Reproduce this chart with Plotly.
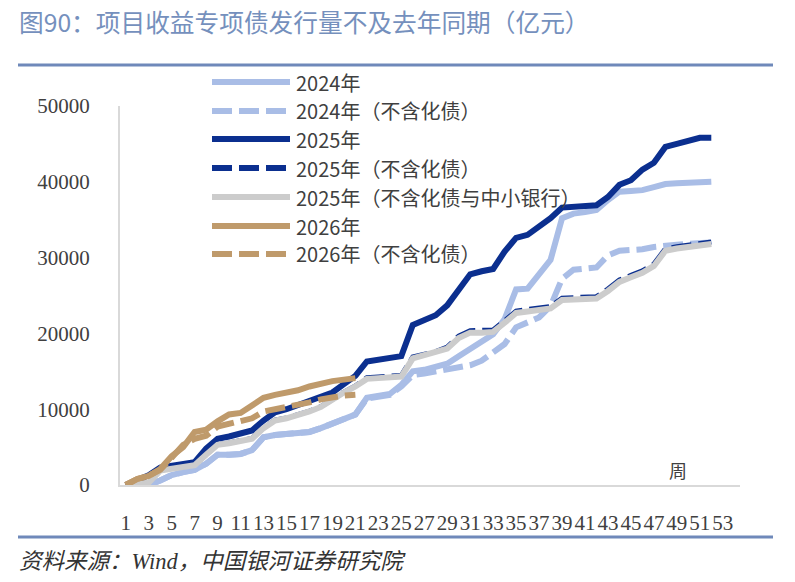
import plotly.graph_objects as go

# ---------------- data ----------------
weeks = list(range(1, 53))
week_ticks = list(range(1, 54, 2))

y2024 = [0, 0, 0, 600, 1300, 1700, 2000, 2800, 4000, 4000, 4100, 4600, 6300, 6600, 6700, 6800,
         7000, 7500, 8100, 8700, 9300, 11500, 11700, 12000, 13200, 15000, 15200, 15600, 16000,
         17000, 17900, 18800, 19900, 21900, 25800, 25900, 27800, 29700, 35200, 35800, 36000,
         36300, 37600, 38700, 38800, 38900, 39300, 39700, 39800, 39900, 40000, 40000]
y2024_ex = [0, 0, 0, 600, 1300, 1700, 2000, 2800, 4000, 4000, 4100, 4600, 6300, 6600, 6700, 6800,
            7000, 7500, 8100, 8700, 9300, 11400, 11600, 11900, 13000, 14500, 14700, 15000, 15300,
            15500, 15800, 16400, 17500, 18600, 20800, 21500, 22100, 23600, 27200, 28400, 28600,
            28700, 30300, 30900, 31000, 31100, 31400, 31600, 31700, 31800, 31900, 32000]
y2025 = [0, 700, 1300, 2300, 2500, 2700, 3000, 4800, 6100, 6400, 6800, 7200, 8500, 9600, 10000,
         10600, 11000, 11600, 12200, 13300, 14400, 16300, 16500, 16600, 17000, 21100, 21700, 22400,
         23700, 25600, 27800, 28200, 28500, 30800, 32600, 33000, 34100, 35200, 36600, 36700, 36700,
         36900, 38000, 39600, 40200, 41600, 42500, 44600, 45000, 45500, 45800, 45800]
y2025_ex = [0, 150, 350, 1950, 2150, 2350, 2650, 4050, 5350, 5550, 5850, 6150, 7550, 8550, 8850,
            9250, 9750, 10350, 11350, 12250, 13050, 14150, 14250, 14350, 14450, 16900, 17300, 17600,
            18200, 19650, 20350, 20350, 20450, 21650, 22950, 23150, 23350, 23550, 24650, 24750,
            24750, 24850, 25850, 27050, 27650, 28250, 29150, 31150, 31450, 31650, 31950, 32050]
y2025_ex2 = [0, 100, 300, 1900, 2100, 2300, 2600, 4000, 5300, 5500, 5800, 6100, 7500, 8500, 8800,
             9200, 9700, 10300, 11300, 12200, 13000, 14000, 14100, 14200, 14300, 16700, 17100, 17400,
             18000, 19400, 20100, 20100, 20200, 21400, 22700, 22900, 23100, 23300, 24400, 24500,
             24500, 24600, 25600, 26800, 27400, 28000, 28900, 30900, 31200, 31400, 31700, 31800]
y2026 = [0, 800, 1200, 2100, 3800, 5000, 7000, 7300, 8400, 9300, 9500, 10500, 11500, 11900,
         12100, 12500, 13000, 13400, 13700, 13900, 14100]
y2026_ex = [0, 800, 1200, 2000, 3600, 5300, 6100, 6500, 7700, 8100, 8300, 8800, 9700, 10000,
            10300, 10400, 10900, 11300, 11600, 11800, 11900]

names = ["2024年", "2024年（不含化债）", "2025年", "2025年（不含化债）",
         "2025年（不含化债与中小银行）", "2026年", "2026年（不含化债）"]
series = [y2024, y2024_ex, y2025, y2025_ex, y2025_ex2, y2026, y2026_ex]
colors = ["#a9bde6", "#a9bde6", "#0b2f8f", "#0b2f8f", "#cccccc", "#bf9a6b", "#bf9a6b"]
dashes = ["solid", "20px,7px", "solid", "20px,7px", "solid", "solid", "20px,7px"]
widths = [6, 6, 6, 5, 6, 6, 6]

# ---------------- layout geometry ----------------
W, H = 795, 582
L, R, T, B = 120, 740, 106, 485


def px(x):
    return (x - L) / (R - L)


def py(y):
    return (B - y) / (B - T)


fig = go.Figure()
for nm, ys, c, d, w in zip(names, series, colors, dashes, widths):
    fig.add_trace(go.Scatter(x=weeks[:len(ys)], y=ys, name=nm, mode="lines",
                             line=dict(color=c, width=w, dash=d), showlegend=False,
                             hoverinfo="skip"))

tick_font = dict(family="Liberation Serif, serif", size=21, color="#404040")
cjk = "Noto Sans CJK SC, sans-serif"

fig.update_layout(
    width=W, height=H,
    margin=dict(l=L, r=W - R, t=T, b=H - B),
    paper_bgcolor="white", plot_bgcolor="white",
    xaxis=dict(range=[0.5, 54.5], tickmode="array", tickvals=week_ticks,
               ticktext=[str(v) for v in week_ticks], tickangle=0, ticks="",
               showgrid=False, zeroline=False, showline=True, linecolor="#d9d9d9",
               linewidth=2, tickfont=tick_font, ticklabelstandoff=18),
    yaxis=dict(range=[0, 50000], tickmode="array", tickvals=[0, 10000, 20000, 30000, 40000, 50000],
               ticktext=["0", "10000", "20000", "30000", "40000", "50000"], ticks="",
               showgrid=False, zeroline=False, showline=True, linecolor="#d9d9d9",
               linewidth=2, tickfont=tick_font, ticklabelstandoff=24),
    showlegend=False,
)

shapes = []
annotations = []

# rules
for yy in (65, 537):
    shapes.append(dict(type="line", xref="paper", yref="paper", x0=px(18), x1=px(773),
                       y0=py(yy), y1=py(yy), line=dict(color="#6f89ba", width=3)))

# title
annotations.append(dict(xref="paper", yref="paper", x=px(17), y=py(21), xanchor="left",
                        yanchor="middle", showarrow=False,
                        text="图90：项目收益专项债发行量不及去年同期（亿元）",
                        font=dict(family=cjk, size=24.7, color="#7590bd")))
# source
annotations.append(dict(xref="paper", yref="paper", x=px(17), y=py(561), xanchor="left",
                        yanchor="middle", showarrow=False,
                        text="<i>资料来源：Wind，中国银河证券研究院</i>",
                        font=dict(family="Liberation Serif, Noto Sans CJK SC, serif", size=22.5,
                                  color="#333333")))
# axis unit
annotations.append(dict(xref="paper", yref="paper", x=px(678), y=py(470), xanchor="center",
                        yanchor="middle", showarrow=False, text="周",
                        font=dict(family=cjk, size=18, color="#404040")))

# custom legend
leg_y = [82, 111, 139, 168, 197, 226, 254]
for nm, c, d, yy in zip(names, colors, dashes, leg_y):
    shapes.append(dict(type="line", xref="paper", yref="paper", x0=px(212), x1=px(290),
                       y0=py(yy), y1=py(yy), line=dict(color=c, width=6, dash=d)))
    annotations.append(dict(xref="paper", yref="paper", x=px(294), y=py(yy), xanchor="left",
                            yanchor="middle", showarrow=False, text=nm,
                            font=dict(family=cjk, size=20, color="#404040")))

fig.update_layout(shapes=shapes, annotations=annotations)
fig.write_html("out.html")
